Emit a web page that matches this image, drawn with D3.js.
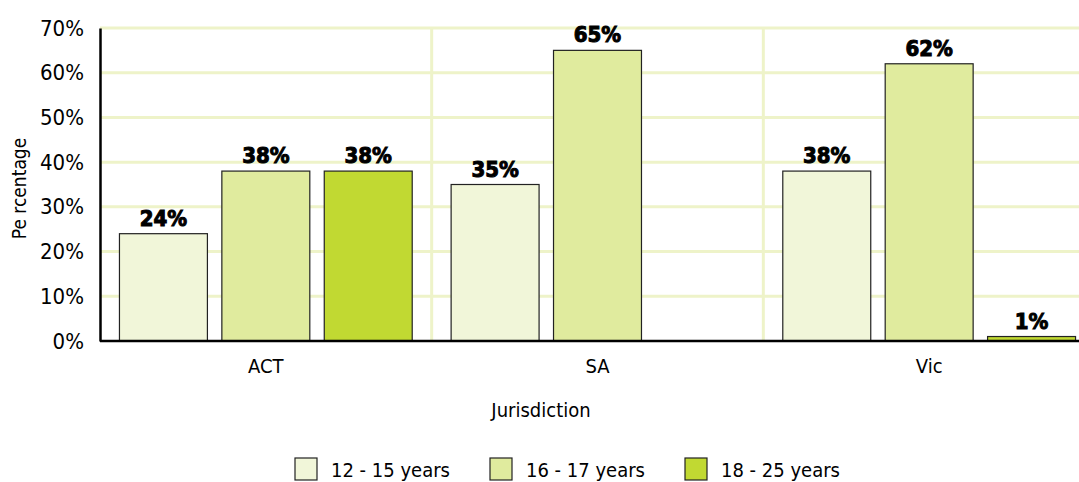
<!DOCTYPE html>
<html>
<head>
<meta charset="utf-8">
<script src="https://cdn.jsdelivr.net/npm/d3@7"></script>
<style>
  body { margin: 0; background: #fff; }
  svg text { font-family: "DejaVu Sans Condensed", "DejaVu Sans", sans-serif; font-stretch: condensed; }
</style>
</head>
<body>
<div id="chart"></div>
<script>
  let width = 1079;
  let height = 482;

  // data
  let jurisdictions = ['ACT', 'SA', 'Vic'];
  let ageGroups = ['12 - 15 years', '16 - 17 years', '18 - 25 years'];
  let age12to15 = [24, 35, 38];
  let age16to17 = [38, 65, 62];
  let age18to25 = [38, null, 1];
  let yTicks = [0, 10, 20, 30, 40, 50, 60, 70];

  let colors = ['#f1f6d9', '#e0eb9e', '#c1d932'];
  let gridColor = '#eef3c9';
  let fontFamily = '"DejaVu Sans Condensed", "DejaVu Sans", sans-serif';

  let margin = {left: 100, top: 28, bottom: 141};
  let plotRight = 1095;

  let svg = d3.select('#chart')
  .append('svg')
  .attr('width', width)
  .attr('height', height);

  let x0 = d3.scaleBand().domain(jurisdictions).range([margin.left, plotRight]);
  let x1 = d3.scaleBand().domain(ageGroups).range([0, x0.bandwidth()]).paddingInner(0.141).paddingOuter(0.19);
  let y = d3.scaleLinear().domain([0, 70]).range([height - margin.bottom, margin.top]);

  // gridlines
  svg.append('g')
  .selectAll('line')
  .data(yTicks.slice(1))
  .enter().append('line')
  .attr('x1', margin.left)
  .attr('x2', width)
  .attr('y1', (d) => y(d))
  .attr('y2', (d) => y(d))
  .attr('stroke', gridColor)
  .attr('stroke-width', 3);

  svg.append('g')
  .selectAll('line')
  .data(jurisdictions.slice(1))
  .enter().append('line')
  .attr('x1', (d) => x0(d))
  .attr('x2', (d) => x0(d))
  .attr('y1', y(70))
  .attr('y2', y(0))
  .attr('stroke', gridColor)
  .attr('stroke-width', 3);

  // bars
  let series = [age12to15, age16to17, age18to25];
  let rows = [];
  jurisdictions.forEach((j, i) => {
    ageGroups.forEach((g, k) => {
      if (series[k][i] != null) rows.push({j: j, g: g, k: k, v: series[k][i]});
    });
  });

  svg.append('g')
  .selectAll('rect')
  .data(rows)
  .enter().append('rect')
  .attr('x', (d) => x0(d.j) + x1(d.g))
  .attr('width', x1.bandwidth())
  .attr('y', (d) => y(d.v))
  .attr('height', (d) => y(0) - y(d.v))
  .attr('fill', (d) => colors[d.k])
  .attr('stroke', '#222')
  .attr('stroke-width', 1.2);

  svg.append('g')
  .selectAll('text')
  .data(rows)
  .enter().append('text')
  .attr('x', (d) => x0(d.j) + x1(d.g) + x1.bandwidth() / 2)
  .attr('y', (d) => y(d.v) - 8)
  .attr('text-anchor', 'middle')
  .attr('font-size', 22)
  .attr('font-weight', 'bold')
  .attr('fill', '#000')
  .attr('stroke', '#000')
  .attr('stroke-width', 1)
  .text((d) => d.v + '%');

  // axes
  let yAxis = svg.append('g')
  .attr('transform', `translate(${margin.left},0)`)
  .call(d3.axisLeft(y).tickValues(yTicks).tickSize(0).tickPadding(16).tickFormat((d) => d + '%'));
  yAxis.select('.domain').attr('stroke', '#000').attr('stroke-width', 2.5);
  yAxis.selectAll('text').attr('font-size', 22).attr('fill', '#000').attr('font-family', fontFamily);

  let xAxis = svg.append('g')
  .attr('transform', `translate(0,${y(0)})`)
  .call(d3.axisBottom(x0).tickSize(0).tickPadding(18));
  xAxis.select('.domain').attr('stroke', '#000').attr('stroke-width', 2.5).attr('d', `M${margin.left},0H${width}`);
  xAxis.selectAll('text').attr('font-size', 20).attr('fill', '#000').attr('font-family', fontFamily);

  // axis titles
  svg.append('text')
  .attr('transform', `translate(26,${(y(0) + y(70)) / 2 + 4}) rotate(-90)`)
  .attr('text-anchor', 'middle')
  .attr('font-size', 19)
  .text('Pe rcentage');

  svg.append('text')
  .attr('x', 541)
  .attr('y', 417)
  .attr('text-anchor', 'middle')
  .attr('font-size', 20)
  .text('Jurisdiction');

  // legend
  let legendX = [295, 490, 685];
  let legend = svg.append('g')
  .selectAll('g')
  .data(ageGroups)
  .enter().append('g')
  .attr('transform', (d, i) => `translate(${legendX[i]},458)`);

  legend.append('rect')
  .attr('width', 22)
  .attr('height', 22)
  .attr('fill', (d, i) => colors[i])
  .attr('stroke', '#222')
  .attr('stroke-width', 1.2);

  legend.append('text')
  .attr('x', 36)
  .attr('y', 19)
  .attr('font-size', 20)
  .text((d) => d);
</script>
</body>
</html>
